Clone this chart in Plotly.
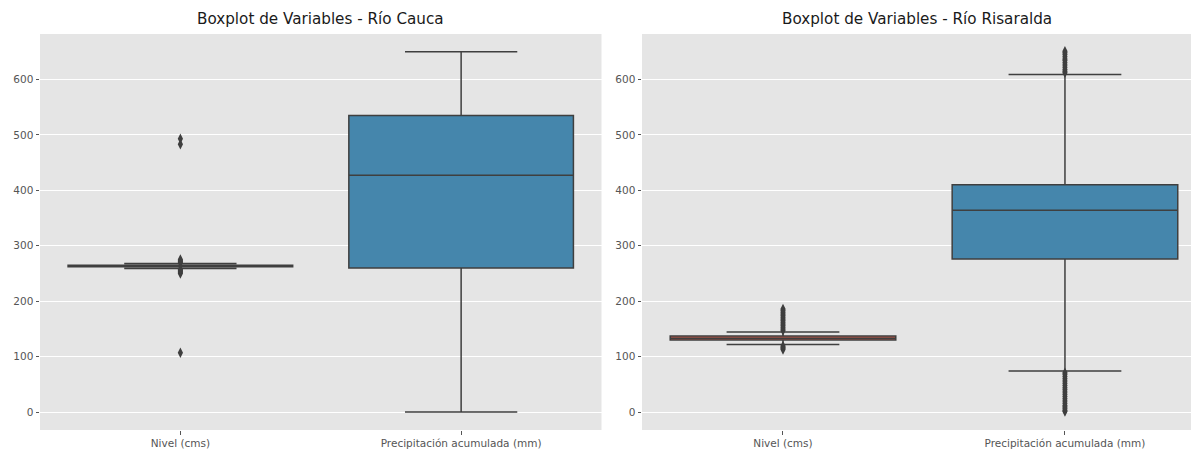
import plotly.graph_objects as go
from plotly.subplots import make_subplots

categories = ["Nivel (cms)", "Precipitación acumulada (mm)"]
titles = ["Boxplot de Variables - Río Cauca", "Boxplot de Variables - Río Risaralda"]

# Río Cauca stats (per category)
cauca_q1 = [262, 260]
cauca_median = [263.5, 427]
cauca_q3 = [265, 535]
cauca_lower = [259, 0]
cauca_upper = [268, 650]
cauca_out_nivel = [107, 250, 252, 254, 256, 257.5, 269.5, 271, 273, 275, 483, 493]
cauca_out_precip = []

# Río Risaralda stats
ris_q1 = [130, 276]
ris_median = [133, 364]
ris_q3 = [137, 410]
ris_lower = [122, 74]
ris_upper = [144.5, 609]
ris_out_nivel = [113, 115, 117, 119, 147, 150, 153, 156, 159, 162, 165, 168, 171, 174, 177, 180, 183, 186]
ris_out_precip = [1, 3, 6, 9, 12, 16, 20, 24, 28, 32, 36, 40, 44, 48, 52, 56, 60, 64, 68, 71,
                  612, 615, 618, 622, 626, 630, 634, 637, 641, 645, 648, 651]

box_colors = ["#CC5A49", "#4586AC"]
line_gray = "#3f3f3f"

fig = make_subplots(rows=1, cols=2, horizontal_spacing=0.035)

panels = [
    (cauca_q1, cauca_median, cauca_q3, cauca_lower, cauca_upper, [cauca_out_nivel, cauca_out_precip]),
    (ris_q1, ris_median, ris_q3, ris_lower, ris_upper, [ris_out_nivel, ris_out_precip]),
]

for p, (q1, med, q3, lo, up, outs) in enumerate(panels):
    col = p + 1
    for i, cat in enumerate(categories):
        fig.add_trace(go.Box(
            x=[cat], q1=[q1[i]], median=[med[i]], q3=[q3[i]],
            lowerfence=[lo[i]], upperfence=[up[i]],
            width=0.8, whiskerwidth=0.5,
            fillcolor=box_colors[i],
            line=dict(color=line_gray, width=1.5),
            boxpoints=False, showlegend=False, hoverinfo="skip",
        ), row=1, col=col)
        if outs[i]:
            fig.add_trace(go.Scatter(
                x=[cat] * len(outs[i]), y=outs[i], mode="markers",
                marker=dict(symbol="diamond-tall", size=7.5, color=line_gray,
                            line=dict(width=0)),
                showlegend=False, hoverinfo="skip",
            ), row=1, col=col)

axis_font = dict(family="DejaVu Sans", size=10.5, color="#555555")

fig.update_layout(
    width=1191, height=450,
    margin=dict(l=40, r=0, t=33.5, b=20),
    paper_bgcolor="white",
    plot_bgcolor="#E5E5E5",
    boxmode="overlay",
    font=dict(family="DejaVu Sans"),
)

left_dom = [0, (601.5 - 40) / 1151]
right_dom = [(642 - 40) / 1151, 1]

fig.update_xaxes(type="category", categoryorder="array", categoryarray=categories,
                 showgrid=False, zeroline=False, showline=False,
                 ticks="outside", ticklen=3.5, tickcolor="#555555", tickwidth=1,
                 tickfont=axis_font)
fig.update_xaxes(domain=left_dom, range=[-0.5, 1.5], row=1, col=1)
fig.update_xaxes(domain=right_dom, range=[-0.5, 1.447], row=1, col=2)

fig.update_yaxes(range=[-32.4, 682], tickvals=[0, 100, 200, 300, 400, 500, 600],
                 showgrid=True, gridcolor="white", gridwidth=1,
                 zeroline=False, showline=False,
                 ticks="outside", ticklen=3.5, tickcolor="#555555", tickwidth=1,
                 tickfont=axis_font)

for dom, t in zip([left_dom, right_dom], titles):
    fig.add_annotation(x=(dom[0] + dom[1]) / 2, y=1, xref="paper", yref="paper",
                       xanchor="center", yanchor="bottom", yshift=4,
                       text=t, showarrow=False,
                       font=dict(family="DejaVu Sans", size=15.2, color="#1a1a1a"))

fig.write_html("out.html", config={"displayModeBar": False},
               post_script="document.body.style.margin='0';document.body.style.padding='0';")
